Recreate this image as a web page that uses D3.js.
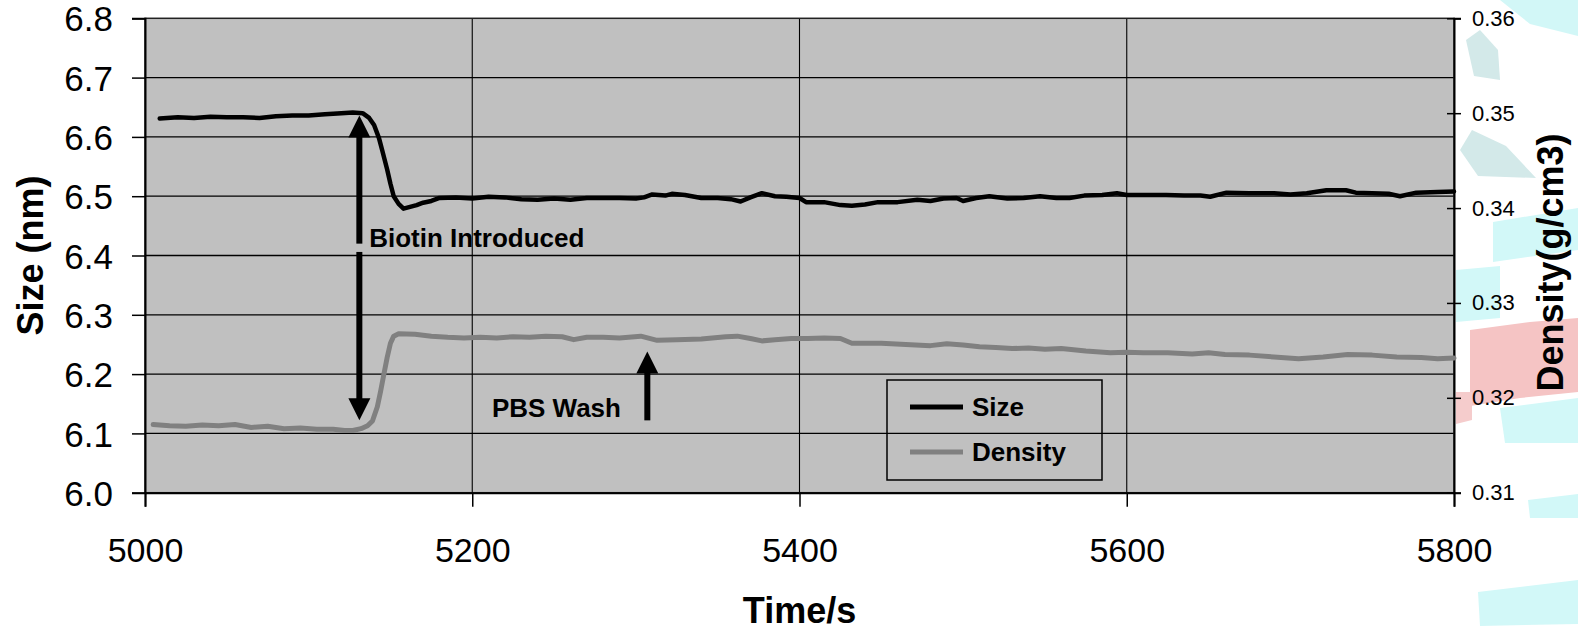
<!DOCTYPE html>
<html>
    <head>
        <title>Size and Density</title>
        <script src="https://d3js.org/d3.v7.min.js"></script>
    </head>
    <style>
        body { margin: 0; background: #fff; }
        text { font-family: "Liberation Sans", Arial, sans-serif; }
    </style>
    <body>
        <div class="graph"></div>
        <script>
            // Size trace (nm)
            const sizeTime = [5009, 5020, 5030, 5040, 5050, 5060, 5070, 5080, 5090, 5100, 5110, 5120, 5127, 5133,
                5137, 5140, 5143, 5145, 5148, 5150, 5152, 5155, 5158, 5162, 5166, 5170, 5175, 5180, 5190, 5200,
                5210, 5220, 5230, 5240, 5250, 5260, 5270, 5280, 5290, 5300, 5305, 5310, 5318, 5322, 5330, 5340,
                5350, 5358, 5364, 5370, 5377, 5385, 5392, 5400, 5404, 5415, 5425, 5432, 5440, 5448, 5460, 5472,
                5480, 5488, 5496, 5500, 5508, 5516, 5527, 5537, 5547, 5557, 5565, 5574, 5585, 5594, 5600, 5612,
                5624, 5635, 5645, 5651, 5661, 5675, 5690, 5700, 5710, 5722, 5734, 5740, 5750, 5760, 5767, 5777,
                5790, 5800];
            const sizeValues = [6.631, 6.633, 6.632, 6.634, 6.633, 6.633, 6.632, 6.635, 6.636, 6.636, 6.638, 6.640, 6.641, 6.640,
                6.632, 6.620, 6.598, 6.577, 6.545, 6.521, 6.500, 6.487, 6.479, 6.482, 6.485, 6.489, 6.492, 6.497, 6.498, 6.496,
                6.499, 6.498, 6.495, 6.494, 6.496, 6.494, 6.497, 6.497, 6.497, 6.496, 6.498, 6.503, 6.501, 6.504, 6.502, 6.497,
                6.497, 6.495, 6.491, 6.498, 6.505, 6.500, 6.499, 6.497, 6.490, 6.490, 6.485, 6.484, 6.486, 6.490, 6.490, 6.494,
                6.492, 6.496, 6.497, 6.492, 6.497, 6.500, 6.496, 6.497, 6.500, 6.497, 6.497, 6.501, 6.502, 6.505, 6.502, 6.502,
                6.502, 6.501, 6.501, 6.499, 6.506, 6.505, 6.505, 6.503, 6.505, 6.510, 6.510, 6.506, 6.505, 6.504, 6.500, 6.506,
                6.507, 6.508];

            // Density trace (g/cm3)
            const densityTime = [5005, 5015, 5025, 5035, 5045, 5055, 5065, 5075, 5085, 5095, 5105, 5115, 5122, 5127,
                5132, 5136, 5139, 5142, 5144, 5146, 5148, 5150, 5152, 5155, 5165, 5175, 5185, 5195, 5205, 5215,
                5225, 5235, 5245, 5255, 5262, 5270, 5280, 5290, 5303, 5313, 5325, 5340, 5355, 5362, 5370, 5377,
                5385, 5395, 5405, 5415, 5425, 5432, 5450, 5465, 5480, 5490, 5500, 5510, 5520, 5530, 5540, 5550,
                5560, 5575, 5590, 5600, 5610, 5625, 5640, 5650, 5660, 5675, 5690, 5705, 5720, 5735, 5750, 5765,
                5780, 5790, 5800];
            const densityValues = [0.31719, 0.31706, 0.31700, 0.31713, 0.31706, 0.31719, 0.31688, 0.31700, 0.31675, 0.31681, 0.31669, 0.31669, 0.31656, 0.31656,
                0.31675, 0.31706, 0.31756, 0.31906, 0.32069, 0.32250, 0.32425, 0.32575, 0.32650, 0.32675, 0.32669, 0.32650, 0.32638, 0.32631, 0.32638, 0.32631,
                0.32644, 0.32638, 0.32650, 0.32644, 0.32613, 0.32638, 0.32638, 0.32631, 0.32650, 0.32606, 0.32613, 0.32619, 0.32644, 0.32650, 0.32625, 0.32600,
                0.32613, 0.32625, 0.32625, 0.32631, 0.32625, 0.32575, 0.32575, 0.32563, 0.32550, 0.32569, 0.32556, 0.32538, 0.32531, 0.32519, 0.32525, 0.32513,
                0.32519, 0.32494, 0.32475, 0.32481, 0.32475, 0.32475, 0.32463, 0.32475, 0.32456, 0.32450, 0.32431, 0.32413, 0.32431, 0.32456, 0.32450, 0.32431,
                0.32425, 0.32413, 0.32419];

            const timeTicks = [5000, 5200, 5400, 5600, 5800];
            const sizeTicks = [6.0, 6.1, 6.2, 6.3, 6.4, 6.5, 6.6, 6.7, 6.8];
            const densityTicks = [0.31, 0.32, 0.33, 0.34, 0.35, 0.36];

            // annotations, in data units (time, size)
            const biotinArrow = { t: 5131, top: 6.636, bottom: 6.122, gapTop: 6.420, gapBottom: 6.406 };
            const biotinLabel = { t: 5137, v: 6.415, text: 'Biotin Introduced' };
            const washArrow = { t: 5307, top: 6.238, bottom: 6.122 };
            const washLabel = { t: 5212, v: 6.127, text: 'PBS Wash' };

            const width = 1578;
            const height = 631;

            const x = d3.scaleLinear().domain([5000, 5800]).range([145, 1454]);
            const ySize = d3.scaleLinear().domain([6.0, 6.8]).range([492.7, 18.3]);
            const yDensity = d3.scaleLinear().domain([0.31, 0.36]).range([492.7, 18.3]);

            let svg = d3.select('.graph')
                .append('svg')
                .attr('width', width)
                .attr('height', height);

            // slide background shapes peeking out on the right
            const decor = [
                { fill: '#d2f7f7', pts: [[1500, 0], [1578, 0], [1578, 36], [1530, 24]] },
                { fill: '#d3e9e9', pts: [[1466, 40], [1480, 30], [1498, 50], [1500, 80], [1474, 76]] },
                { fill: '#d3e9e9', pts: [[1460, 150], [1472, 130], [1506, 146], [1536, 178], [1478, 176]] },
                { fill: '#d2f8f8', pts: [[1493, 222], [1578, 208], [1578, 250], [1493, 262]] },
                { fill: '#d2f8f8', pts: [[1456, 270], [1500, 266], [1500, 318], [1456, 322]] },
                { fill: '#f5c4c4', pts: [[1470, 330], [1530, 322], [1578, 318], [1578, 392], [1520, 398], [1470, 406]] },
                { fill: '#f5cccc', pts: [[1456, 392], [1472, 392], [1472, 420], [1456, 424]] },
                { fill: '#d2f8f8', pts: [[1500, 408], [1578, 398], [1578, 443], [1505, 443]] },
                { fill: '#d2f8f8', pts: [[1528, 500], [1578, 494], [1578, 518], [1530, 518]] },
                { fill: '#d2f8f8', pts: [[1478, 592], [1578, 580], [1578, 624], [1480, 626]] }
            ];
            svg.append('g').selectAll('polygon')
                .data(decor)
                .enter()
                .append('polygon')
                .attr('points', d => d.pts.map(p => p.join(',')).join(' '))
                .attr('fill', d => d.fill);

            // plot area
            svg.append('rect')
                .attr('x', x(5000))
                .attr('y', ySize(6.8))
                .attr('width', x(5800) - x(5000))
                .attr('height', ySize(6.0) - ySize(6.8))
                .attr('fill', '#c0c0c0');

            // gridlines
            svg.append('g').selectAll('line')
                .data(sizeTicks.slice(1, -1))
                .enter()
                .append('line')
                .attr('x1', x(5000)).attr('x2', x(5800))
                .attr('y1', d => ySize(d)).attr('y2', d => ySize(d))
                .attr('stroke', '#000').attr('stroke-width', 1.3);

            svg.append('g').selectAll('line')
                .data(timeTicks.slice(1, -1))
                .enter()
                .append('line')
                .attr('y1', ySize(6.8)).attr('y2', ySize(6.0))
                .attr('x1', d => x(d)).attr('x2', d => x(d))
                .attr('stroke', '#000').attr('stroke-width', 1.1);

            svg.append('rect')
                .attr('x', x(5000))
                .attr('y', ySize(6.8))
                .attr('width', x(5800) - x(5000))
                .attr('height', ySize(6.0) - ySize(6.8))
                .attr('fill', 'none')
                .attr('stroke', '#222')
                .attr('stroke-width', 1.5);

            // axes
            const xAxis = d3.axisBottom(x).tickValues(timeTicks).tickFormat(d3.format('d'))
                .tickSize(14).tickPadding(31);
            const yAxis = d3.axisLeft(ySize).tickValues(sizeTicks).tickFormat(d3.format('.1f'))
                .tickSize(13).tickPadding(19);
            const y2Axis = d3.axisRight(yDensity).tickValues(densityTicks).tickFormat(d3.format('.2f'))
                .tickSize(7).tickPadding(11);

            let gx = svg.append('g')
                .attr('transform', `translate(0, ${ySize(6.0)})`)
                .call(xAxis);
            gx.selectAll('text').attr('font-size', 34);

            let gy = svg.append('g')
                .attr('transform', `translate(${x(5000)}, 0)`)
                .call(yAxis);
            gy.selectAll('text').attr('font-size', 35).attr('dy', '0.36em');

            let gy2 = svg.append('g')
                .attr('transform', `translate(${x(5800)}, 0)`)
                .call(y2Axis);
            gy2.selectAll('text').attr('font-size', 22);
            gy2.selectAll('.tick line').attr('x1', -7);

            [gx, gy, gy2].forEach(g => {
                g.attr('font-family', null);
                g.selectAll('.domain').attr('stroke', '#000').attr('stroke-width', 2);
                g.selectAll('.tick line').attr('stroke', '#000').attr('stroke-width', 1.5);
                g.selectAll('text').attr('fill', '#000');
            });

            // traces
            const sizeLine = d3.line()
                .x(d => x(d[0]))
                .y(d => ySize(d[1]));
            const densityLine = d3.line()
                .x(d => x(d[0]))
                .y(d => yDensity(d[1]));

            svg.append('path')
                .datum(densityTime.map((t, i) => [t, densityValues[i]]))
                .attr('d', densityLine)
                .attr('fill', 'none')
                .attr('stroke', '#808080')
                .attr('stroke-width', 5)
                .attr('stroke-linejoin', 'round')
                .attr('stroke-linecap', 'round');

            svg.append('path')
                .datum(sizeTime.map((t, i) => [t, sizeValues[i]]))
                .attr('d', sizeLine)
                .attr('fill', 'none')
                .attr('stroke', '#000')
                .attr('stroke-width', 4.5)
                .attr('stroke-linejoin', 'round')
                .attr('stroke-linecap', 'round');

            // arrows
            function arrowHead(g, cx, tipY, dir) {
                // dir = -1 points up, 1 points down
                const w = 11, h = 22;
                g.append('polygon')
                    .attr('points', [[cx, tipY], [cx - w, tipY - dir * h], [cx + w, tipY - dir * h]]
                        .map(p => p.join(',')).join(' '))
                    .attr('fill', '#000');
            }
            function shaft(g, cx, y1, y2) {
                g.append('rect')
                    .attr('x', cx - 3)
                    .attr('y', Math.min(y1, y2))
                    .attr('width', 6)
                    .attr('height', Math.abs(y2 - y1))
                    .attr('fill', '#000');
            }

            let ann = svg.append('g');
            let bx = x(biotinArrow.t);
            arrowHead(ann, bx, ySize(biotinArrow.top), -1);
            arrowHead(ann, bx, ySize(biotinArrow.bottom), 1);
            shaft(ann, bx, ySize(biotinArrow.top) + 20, ySize(biotinArrow.gapTop));
            shaft(ann, bx, ySize(biotinArrow.gapBottom), ySize(biotinArrow.bottom) - 20);

            let wx = x(washArrow.t);
            arrowHead(ann, wx, ySize(washArrow.top), -1);
            shaft(ann, wx, ySize(washArrow.top) + 20, ySize(washArrow.bottom));

            ann.append('text')
                .attr('x', x(biotinLabel.t))
                .attr('y', ySize(biotinLabel.v))
                .attr('font-size', 26)
                .attr('font-weight', 'bold')
                .text(biotinLabel.text);

            ann.append('text')
                .attr('x', x(washLabel.t))
                .attr('y', ySize(washLabel.v))
                .attr('font-size', 26)
                .attr('font-weight', 'bold')
                .text(washLabel.text);

            // legend
            let legend = svg.append('g').attr('transform', 'translate(887, 380)');
            legend.append('rect')
                .attr('width', 215)
                .attr('height', 100)
                .attr('fill', 'none')
                .attr('stroke', '#000')
                .attr('stroke-width', 1.5);
            const legendItems = [['Size', '#000'], ['Density', '#808080']];
            legendItems.forEach((d, i) => {
                legend.append('line')
                    .attr('x1', 23).attr('x2', 76)
                    .attr('y1', 27 + i * 45).attr('y2', 27 + i * 45)
                    .attr('stroke', d[1]).attr('stroke-width', 5);
                legend.append('text')
                    .attr('x', 85)
                    .attr('y', 27 + i * 45)
                    .attr('dy', '0.35em')
                    .attr('font-size', 26)
                    .attr('font-weight', 'bold')
                    .text(d[0]);
            });

            // axis titles
            svg.append('text')
                .attr('transform', `translate(30, ${(ySize(6.0) + ySize(6.8)) / 2}) rotate(-90)`)
                .attr('text-anchor', 'middle')
                .attr('dy', '0.35em')
                .attr('font-size', 36)
                .attr('font-weight', 'bold')
                .text('Size (nm)');

            svg.append('text')
                .attr('transform', `translate(1550, ${(ySize(6.0) + ySize(6.8)) / 2 + 7}) rotate(-90)`)
                .attr('text-anchor', 'middle')
                .attr('dy', '0.35em')
                .attr('font-size', 36)
                .attr('font-weight', 'bold')
                .text('Density(g/cm3)');

            svg.append('text')
                .attr('x', (x(5000) + x(5800)) / 2)
                .attr('y', 623)
                .attr('text-anchor', 'middle')
                .attr('font-size', 36)
                .attr('font-weight', 'bold')
                .text('Time/s');
        </script>
    </body>
</html>
